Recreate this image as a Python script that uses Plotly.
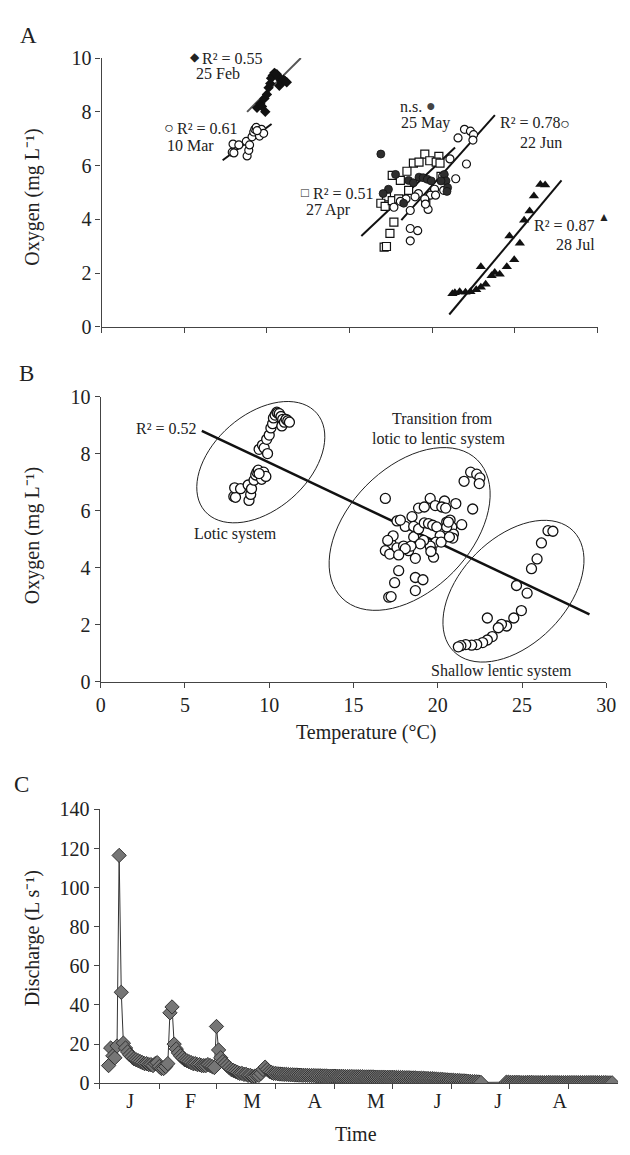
import math
import plotly.graph_objects as go

W, H = 630, 1155
FONT = "Liberation Serif"
AX = "#444444"
TXT = "#222222"

# ---------------- Panel A data (temperature °C, oxygen mg/L) ----------------
feb_T = [9.4, 9.6, 9.7, 9.9, 9.85, 10.0, 10.1, 10.2, 10.25, 10.35, 10.45, 10.5, 10.6, 10.7, 10.8, 10.75, 10.9, 11.0, 11.1, 11.2]
feb_O = [8.15, 8.3, 8.2, 8.0, 8.5, 8.65, 8.9, 9.05, 9.25, 9.35, 9.45, 9.42, 9.4, 9.3, 9.2, 8.97, 9.1, 9.2, 9.15, 9.1]

mar_T = [7.9, 8.0, 7.95, 8.3, 8.75, 8.8, 8.9, 8.95, 9.1, 9.2, 9.27, 9.35, 9.5, 9.55, 9.67, 9.8, 9.4]
mar_O = [6.5, 6.47, 6.8, 6.77, 6.9, 6.36, 6.57, 6.77, 7.07, 7.25, 7.35, 7.42, 7.28, 7.1, 7.35, 7.2, 7.3]

apr_T = [19.55, 18.86, 19.2, 19.85, 20.4, 20.24, 20.47, 18.47, 17.58, 18.07, 20.53, 18.57, 17.23, 16.89, 17.15, 17.58, 17.97, 19.61, 17.68, 17.44, 17.09, 17.23]
apr_O = [6.43, 6.09, 6.13, 6.18, 6.34, 6.13, 6.09, 5.79, 5.64, 5.45, 5.6, 5.08, 4.84, 4.6, 4.48, 4.7, 4.76, 4.66, 3.9, 3.48, 2.97, 2.99]

may_T = [16.89, 17.78, 18.57, 18.86, 19.2, 19.45, 19.7, 19.94, 20.73, 20.83, 20.93, 20.89, 17.35, 17.03, 18.27, 20.53]
may_O = [6.43, 5.67, 5.45, 5.36, 5.57, 5.55, 5.49, 5.43, 5.67, 5.43, 5.18, 5.04, 5.12, 4.96, 4.6, 5.43]

jun_T = [21.95, 22.31, 22.5, 22.46, 21.56, 21.07, 22.07, 21.42, 20.63, 20.14, 19.89, 20.2, 19.55, 19.16, 18.96, 18.41, 18.07, 17.68, 20.69, 19.75, 18.67, 18.67, 19.12, 18.67, 19.59]
jun_O = [7.35, 7.28, 7.15, 6.95, 7.03, 6.25, 6.06, 5.51, 5.6, 5.12, 4.9, 4.9, 4.76, 4.96, 4.84, 4.76, 4.67, 4.45, 5.08, 4.37, 4.33, 3.66, 3.58, 3.2, 4.57]

jul_T = [26.54, 26.83, 26.15, 25.89, 25.56, 24.67, 25.3, 22.94, 24.96, 24.51, 24.08, 23.78, 23.59, 23.23, 22.94, 22.66, 22.31, 22.01, 21.66, 21.37, 21.22]
jul_O = [5.3, 5.28, 4.87, 4.31, 3.97, 3.38, 3.11, 2.24, 2.5, 2.24, 1.96, 2.02, 1.9, 1.59, 1.47, 1.38, 1.31, 1.29, 1.31, 1.27, 1.23]

# regression lines of panel A (end points)
fit_date = ["25 Feb", "10 Mar", "27 Apr", "22 Jun", "28 Jul"]
fit_x0 = [8.8, 7.32, 15.71, 18.13, 21.03]
fit_y0 = [8.0, 6.2, 3.38, 3.97, 0.46]
fit_x1 = [12.05, 10.28, 21.38, 23.79, 27.82]
fit_y1 = [10.0, 7.55, 6.67, 7.88, 5.45]
fit_col = ["#555555", "#111111", "#111111", "#111111", "#111111"]

# overall regression in panel B
all_fit_x = [6.0, 29.0]
all_fit_y = [8.8, 2.37]

# ellipses of panel B: centre (T, O), semi-axes in px, tilt in degrees
ell_cx = [9.5, 18.33, 24.49]
ell_cy = [7.7, 5.36, 3.18]
ell_a = [76, 98.8, 86.7]
ell_b = [48.5, 62.7, 54.1]
ell_ang = [41, 45.4, 45]

# ---------------- Panel C data (daily discharge, L/s) ----------------
discharge_pre = [
    9, 18, 14, 13, 19, 116.5, 46.5, 20.5, 18, 16,
    14.5, 13.5, 12.5, 12, 11.5, 11, 10.5, 10, 10, 9.5,
    9.5, 9, 10, 10.5, 8.5, 7.5, 7.5, 8.5, 10, 36,
    39, 20, 17.5, 15.5, 14, 13, 12, 11.5, 11, 10.5,
    10, 10, 9.5, 9.5, 9, 9, 9, 9.5, 9, 8.5,
    8, 29, 17, 13, 11, 10, 9, 8, 7, 6.5,
    6, 5.5, 5, 5, 4.5, 4.5, 4, 4, 3.5, 3.5,
    4, 4, 5, 7, 8.2, 7, 6, 5.5, 5, 5,
    4.8, 4.7, 4.6, 4.5, 4.5, 4.4, 4.3, 4.3, 4.2, 4.2,
    4.1, 4.1, 4.0, 4.0, 4.0, 3.9, 3.9, 3.9, 3.8, 3.8,
    3.8, 3.7, 3.7, 3.7, 3.6, 3.6, 3.6, 3.6, 3.5, 3.5,
    3.5, 3.5, 3.4, 3.4, 3.4, 3.4, 3.3, 3.3, 3.3, 3.3,
    3.3, 3.2, 3.2, 3.2, 3.2, 3.2, 3.1, 3.1, 3.1, 3.1,
    3.1, 3.0, 3.0, 3.0, 3.0, 3.0, 2.9, 2.9, 2.9, 2.9,
    2.8, 2.8, 2.8, 2.7, 2.7, 2.7, 2.6, 2.6, 2.5, 2.5,
    2.4, 2.4, 2.3, 2.3, 2.2, 2.1, 2.0, 2.0, 1.9, 1.8,
    1.7, 1.6, 1.6, 1.5, 1.4, 1.4, 1.3, 1.2, 1.2, 1.1,
    1.0, 0.9, 0.8, 0.8, 0.7, 0.6, 0.4,
]
discharge_post = [
    0.5, 0.5, 0.4, 0.4, 0.4, 0.4, 0.4, 0.3, 0.3, 0.3,
    0.4, 0.4, 0.4, 0.3, 0.3, 0.3, 0.3, 0.3, 0.3, 0.3,
    0.4, 0.3, 0.3, 0.3, 0.3, 0.3, 0.3, 0.3, 0.3, 0.3,
    0.3, 0.3, 0.3, 0.3, 0.3, 0.3, 0.3, 0.3, 0.3, 0.3,
    0.3, 0.3, 0.3, 0.3, 0.3, 0.3, 0.3, 0.3, 0.2, 0.2, 0.2,
]
gap_start_day = 188  # first day after the missing stretch
day = list(range(len(discharge_pre))) + list(range(gap_start_day, gap_start_day + len(discharge_post)))
discharge = discharge_pre + discharge_post

month_labels = ["J", "F", "M", "A", "M", "J", "J", "A"]
month_label_pos = [10.2, 38.8, 67.8, 97.4, 126.4, 155.5, 184.1, 213.2]
month_tick_pos = [-4.15, 24.0, 51.2, 78.9, 106.6, 134.3, 162.0, 189.7, 217.4]

# ---------------- layout geometry (pixels) ----------------
A_x = (99, 607); A_y = (48, 322)
B_x = (98, 616); B_y = (393, 684)
C_x = (97, 628); C_y = (814, 1093)


def xdom(p):
    return [p[0] / W, p[1] / W]


def ydom(p):
    return [1 - p[1] / H, 1 - p[0] / H]


fig = go.Figure()

# ---- Panel A ----
series = [
    (feb_T, feb_O, dict(symbol="diamond", size=8, color="#111111", line=dict(width=0))),
    (mar_T, mar_O, dict(symbol="circle", size=8, color="white", line=dict(width=1.2, color="#111111"))),
    (apr_T, apr_O, dict(symbol="square", size=8, color="white", line=dict(width=1.2, color="#111111"))),
    (jun_T, jun_O, dict(symbol="circle", size=8, color="white", line=dict(width=1.2, color="#111111"))),
    (may_T, may_O, dict(symbol="circle", size=8, color="#2e2e2e", line=dict(width=0.8, color="#111111"))),
    (jul_T, jul_O, dict(symbol="triangle-up", size=9, color="#111111", line=dict(width=0))),
]
for i in range(len(fit_date)):
    fig.add_trace(go.Scatter(x=[fit_x0[i], fit_x1[i]], y=[fit_y0[i], fit_y1[i]], mode="lines",
                             line=dict(color=fit_col[i], width=2), xaxis="x", yaxis="y",
                             hoverinfo="skip"))
for xs, ys, mk in series:
    fig.add_trace(go.Scatter(x=xs, y=ys, mode="markers", marker=mk, xaxis="x", yaxis="y"))

# ---- Panel B ----
fig.add_trace(go.Scatter(x=all_fit_x, y=all_fit_y, mode="lines", line=dict(color="#111111", width=2.5),
                         xaxis="x2", yaxis="y2", hoverinfo="skip"))
allT = feb_T + mar_T + apr_T + may_T + jun_T + jul_T
allO = feb_O + mar_O + apr_O + may_O + jun_O + jul_O
fig.add_trace(go.Scatter(x=allT, y=allO, mode="markers",
                         marker=dict(symbol="circle", size=10, color="white", line=dict(width=1.3, color="#111111")),
                         xaxis="x2", yaxis="y2"))

# ellipses
ux = (B_x[1] - B_x[0]) / 30.0
uy = (B_y[1] - B_y[0]) / 10.0
shapes = []
for cx, cy, a, b, ang in zip(ell_cx, ell_cy, ell_a, ell_b, ell_ang):
    th = math.radians(ang)
    pts = []
    for k in range(73):
        t = 2 * math.pi * k / 72
        dx = a * math.cos(t) * math.cos(th) - b * math.sin(t) * math.sin(th)
        dy = a * math.cos(t) * math.sin(th) + b * math.sin(t) * math.cos(th)
        pts.append((cx + dx / ux, cy + dy / uy))
    path = "M " + " L ".join(f"{x:.4f},{y:.4f}" for x, y in pts) + " Z"
    shapes.append(dict(type="path", path=path, xref="x2", yref="y2",
                       line=dict(color="#222222", width=1)))

# ---- Panel C ----
fig.add_trace(go.Scatter(x=day, y=discharge, mode="lines+markers",
                         line=dict(color="#333333", width=1),
                         marker=dict(symbol="diamond", size=11, color="#767676",
                                     line=dict(width=1, color="#333333")),
                         xaxis="x3", yaxis="y3"))

axis_common = dict(showline=True, linecolor=AX, linewidth=1.3, ticks="outside", ticklen=5,
                   tickcolor=AX, tickwidth=1.3, showgrid=False, zeroline=False,
                   tickfont=dict(family=FONT, size=20, color=TXT))

fig.update_layout(
    width=W, height=H, margin=dict(l=0, r=0, t=0, b=0),
    paper_bgcolor="white", plot_bgcolor="white", showlegend=False,
    font=dict(family=FONT, color=TXT),
    xaxis=dict(domain=xdom(A_x), range=[0, 30], tickvals=[0, 5, 10, 15, 20, 25, 30],
               showticklabels=False, anchor="y", **axis_common),
    yaxis=dict(domain=ydom(A_y), range=[0, 10], tickvals=[0, 2, 4, 6, 8, 10], anchor="x", **axis_common),
    xaxis2=dict(domain=xdom(B_x), range=[0, 30], tickvals=[0, 5, 10, 15, 20, 25, 30], anchor="y2", **axis_common),
    yaxis2=dict(domain=ydom(B_y), range=[0, 10], tickvals=[0, 2, 4, 6, 8, 10], anchor="x2", **axis_common),
    xaxis3=dict(domain=xdom(C_x), range=[-4.2, 240.8], anchor="y3",
                showline=True, linecolor=AX, linewidth=1.3, showgrid=False, zeroline=False,
                tickmode="array", tickvals=month_label_pos, ticktext=month_labels, ticks="",
                tickfont=dict(family=FONT, size=20, color=TXT),
                minor=dict(tickmode="array", tickvals=month_tick_pos, ticks="outside", ticklen=5,
                           tickcolor=AX, tickwidth=1.3, showgrid=False)),
    yaxis3=dict(domain=ydom(C_y), range=[0, 140], tickvals=[0, 20, 40, 60, 80, 100, 120, 140],
                anchor="x3", **axis_common),
    shapes=shapes,
)


def ann(text, x, y, size=16, xanchor="left", angle=0, color=TXT):
    fig.add_annotation(text=text, x=x / W, y=1 - y / H, xref="paper", yref="paper",
                       xanchor=xanchor, yanchor="middle", showarrow=False, textangle=angle,
                       font=dict(family=FONT, size=size, color=color))


# panel letters
ann("A", 24, 25, size=23, xanchor="center")
ann("B", 22, 370, size=23, xanchor="center")
ann("C", 17, 789, size=23, xanchor="center")

# axis titles
ann("Oxygen (mg L⁻¹)", 28, 190, size=20, xanchor="center", angle=-90)
ann("Oxygen (mg L⁻¹)", 28, 535, size=20, xanchor="center", angle=-90)
ann("Discharge (L s⁻¹)", 28, 945, size=20, xanchor="center", angle=-90)
ann("Temperature (°C)", 370, 735, size=20, xanchor="center")
ann("Time", 360, 1145, size=20, xanchor="center")

# panel A labels
ann("◆", 195, 47, size=12, xanchor="center")
ann("R² = 0.55", 200, 48)
ann("25 Feb", 194, 64)
ann("○", 168, 119, size=16, xanchor="center")
ann("R² = 0.61", 174, 120)
ann("10 Mar", 164, 137)
ann("□", 307, 185, size=13, xanchor="center")
ann("R² = 0.51", 313, 186)
ann("27 Apr", 306, 203)
ann("n.s.", 429, 97, xanchor="right")
ann("●", 436, 96, size=16, xanchor="center", color="#444444")
ann("25 May", 404, 114)
ann("R² = 0.78", 505, 114)
ann("○", 574, 115, size=16, xanchor="center")
ann("22 Jun", 526, 134)
ann("R² = 0.87", 540, 219)
ann("▲", 614, 210, size=12, xanchor="center")
ann("28 Jul", 562, 238)

# panel B labels
ann("R² = 0.52", 165, 426, xanchor="center")
ann("Lotic system", 236, 533, xanchor="center")
ann("Transition from", 448, 415, xanchor="center")
ann("lotic to lentic system", 444, 436, xanchor="center")
ann("Shallow lentic system", 509, 673, xanchor="center")

fig.write_html("out.html")
